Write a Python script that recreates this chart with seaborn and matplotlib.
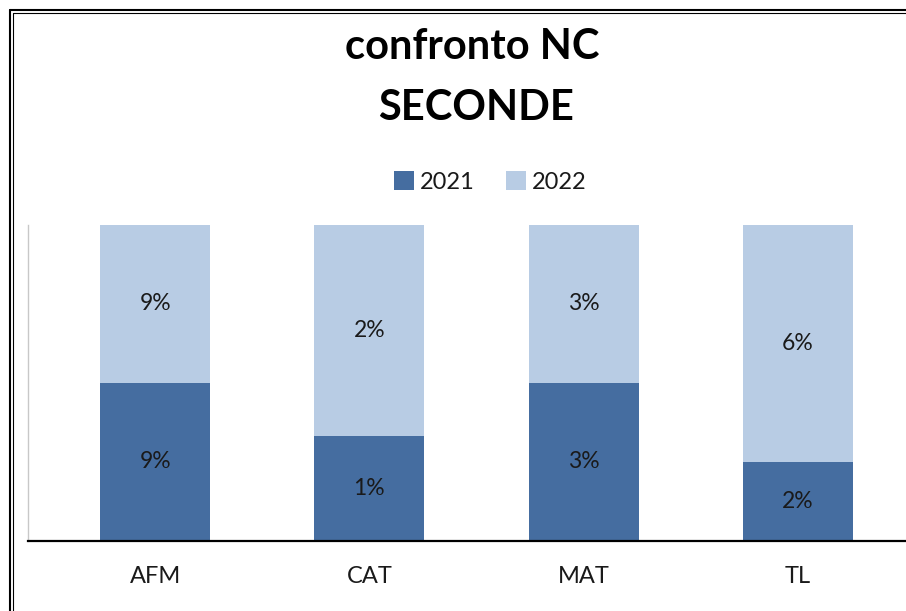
import numpy as np
import pandas as pd
import matplotlib
matplotlib.use("Agg")
import matplotlib.pyplot as plt
import seaborn as sns
from matplotlib.patches import Patch
from matplotlib.lines import Line2D

# data
categories = ["AFM", "CAT", "MAT", "TL"]
val_2021 = [9, 1, 3, 2]
val_2022 = [9, 2, 3, 6]

dark = "#456da0"
light = "#b8cce4"
txt = "#1a1a1a"

sns.set_theme(style="white")
plt.rcParams["font.family"] = ["Lato", "DejaVu Sans"]

df = pd.DataFrame({"cat": categories, "y2021": val_2021, "y2022": val_2022})
df["total"] = df["y2021"] + df["y2022"]
df["share2021"] = df["y2021"] / df["total"]
df["full"] = 1.0

fig = plt.figure(figsize=(9.06, 6.11), dpi=100)
ax = fig.add_axes([28 / 906, 70 / 611, 897 / 906, 316 / 611])

sns.barplot(data=df, x="cat", y="full", color=light, saturation=1, width=0.514, linewidth=0, ax=ax)
sns.barplot(data=df, x="cat", y="share2021", color=dark, saturation=1, width=0.514, linewidth=0, ax=ax)

for i, row in df.iterrows():
    s = row["share2021"]
    ax.text(i, s / 2, f"{row['y2021']}%", ha="center", va="center", fontsize=16.5, color=txt)
    ax.text(i, s + (1 - s) / 2, f"{row['y2022']}%", ha="center", va="center", fontsize=16.5, color=txt)

ax.set_xlim(-0.593, 3.593)
ax.set_ylim(0, 1)
ax.set_xlabel("")
ax.set_ylabel("")
ax.set_yticks([])
ax.tick_params(axis="x", length=0, pad=18, labelsize=17, colors=txt)
for sp in ["top", "right"]:
    ax.spines[sp].set_visible(False)
ax.spines["left"].set_color("#c8c8c8")
ax.spines["left"].set_linewidth(1)
ax.spines["bottom"].set_color("black")
ax.spines["bottom"].set_linewidth(1.6)

# titles
fig.text(0.521, 1 - 47 / 611, "confronto NC", ha="center", va="center", fontsize=30,
         fontweight="bold", color="black")
fig.text(0.525, 1 - 108 / 611, "SECONDE", ha="center", va="center", fontsize=30,
         fontweight="bold", color="black")

# legend
handles = [Patch(facecolor=dark, edgecolor="none"), Patch(facecolor=light, edgecolor="none")]
leg = fig.legend(handles, ["2021", "2022"], loc="center", bbox_to_anchor=(0.541, 1 - 182 / 611), ncol=2,
                 frameon=False, fontsize=17, handlelength=0.85, handleheight=0.85, handletextpad=0.25,
                 columnspacing=1.3)
for t in leg.get_texts():
    t.set_color(txt)

# outer double frame
fig.add_artist(Line2D([10 / 906, 10 / 906], [0, 1 - 10 / 611], color="black", lw=1.5))
fig.add_artist(Line2D([13 / 906, 13 / 906], [0, 1 - 13 / 611], color="black", lw=0.8))
fig.add_artist(Line2D([10 / 906, 1], [1 - 10 / 611, 1 - 10 / 611], color="black", lw=1.5))
fig.add_artist(Line2D([13 / 906, 1], [1 - 13 / 611, 1 - 13 / 611], color="black", lw=0.8))

fig.savefig("out.png", dpi=100)
